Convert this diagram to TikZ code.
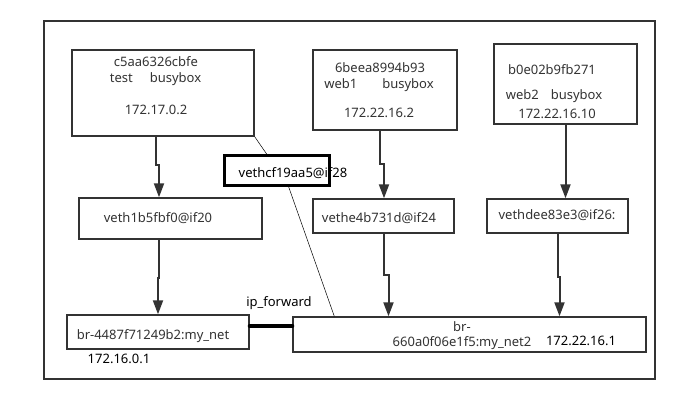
\documentclass[tikz,border=0pt]{standalone}
\usepackage{fontspec}
\setmainfont{Noto Sans}
\usetikzlibrary{arrows.meta, positioning}
\definecolor{ink}{HTML}{333333}
\tikzset{
  box/.style={draw=ink, line width=1.4pt, fill=white, inner sep=0pt},
  txt/.style={text=ink, inner sep=0pt, font=\fontsize{13}{15}\selectfont},
  arr/.style={draw=ink, line width=2pt, -{Triangle[width=10pt,length=14pt]}},
}

\begin{document}
\begin{tikzpicture}[x=1pt, y=-1pt]
\useasboundingbox (0,0) rectangle (685,403);
% frame
\draw[ink, line width=1.6pt] (44,21) rectangle (655,379);

% containers
\node[box, minimum width=182, minimum height=86] (test) at (163,93) {};
\node[box, minimum width=144, minimum height=80] (web1) at (385,90) {};
\node[box, minimum width=143, minimum height=80] (web2) at (565.5,84) {};
\node[txt] (tid) at (156,62) {c5aa6326cbfe};
\node[txt] (tname) at (155.5,79) {test\hspace{17pt}busybox};
\node[txt] (tip) at (156,110) {172.17.0.2};
\node[txt] (w1id) at (380,68) {6beea8994b93};
\node[txt] (w1name) at (379,85) {web1\hspace{25pt}busybox};
\node[txt] (w1ip) at (379,113) {172.22.16.2};
\node[txt] (w2id) at (552,70) {b0e02b9fb271};
\node[txt] (w2name) at (554,96) {web2\hspace{12pt}busybox};
\node[txt] (w2ip) at (557,114) {172.22.16.10};

% veth pairs
\node[box, minimum width=183, minimum height=41] (vethtest) at (170.5,218.5) {};
\node[box, minimum width=141, minimum height=34] (vethweb1) at (383.5,216) {};
\node[box, minimum width=141, minimum height=34] (vethweb2) at (557.5,216) {};
\node[txt] (vt) at (158,218) {veth1b5fbf0@if20};
\node[txt] (vw1) at (379,218) {vethe4b731d@if24};
\node[txt] (vw2) at (557,215) {vethdee83e3@if26:};

% bridges
\node[box, minimum width=182, minimum height=34] (brnet) at (158,332) {};
\node[box, minimum width=353, minimum height=35] (brnet2) at (469.5,334.5) {};
\node[txt] (bn) at (153,336) {br-4487f71249b2:my\_net};
\node[txt, text=black] (bnip) at (119,359) {172.16.0.1};
\node[txt] (bn2a) at (462,327) {br-};
\node[txt] (bn2b) at (462,343) {660a0f06e1f5:my\_net2};
\node[txt, text=black] (bn2ip) at (581,341) {172.22.16.1};

% test joins my_net2 too
\coordinate (kink) at (288,185);
\draw[black, line width=0.5pt] (test.south east) -- (kink) -- ([xshift=42pt]brnet2.north west);
\node[fill=white, minimum width=104, minimum height=29, inner sep=0pt] (vethcf) at (277,170.5) {};
\node[txt, text=black] (vcf) at (293,173) {vethcf19aa5@if28};
\draw[black, line width=3pt] (vethcf.north west) rectangle (vethcf.south east);

% links
\draw[arr] ([xshift=-7pt]test.south) -- ++(0,28) -- ++(3,0) coordinate (j1) -- (j1 |- vethtest.north);
\draw[arr] ([xshift=-11.5pt]vethtest.south) -- ++(0,38) -- ++(-1,0) coordinate (j2) -- (j2 |- brnet.north);
\draw[arr] ([xshift=-5pt]web1.south) -- ++(0,33) -- ++(4,0) coordinate (j3) -- (j3 |- vethweb1.north);
\draw[arr] (web2.south) -- (web2.south |- vethweb2.north);
\draw[arr] (vethweb1.south) -- ++(0,41) -- ++(5,0) coordinate (j4) -- (j4 |- brnet2.north);
\draw[arr] (vethweb2.south) -- ++(0,43) -- ++(2,0) coordinate (j5) -- (j5 |- brnet2.north);

% forwarding
\draw[black, line width=4pt, line cap=round] ([yshift=6pt]brnet.east) -- ([yshift=8.5pt]brnet2.west);
\node[txt, text=black] (fwd) at (279,303) {ip\_forward};
\end{tikzpicture}
\end{document}
